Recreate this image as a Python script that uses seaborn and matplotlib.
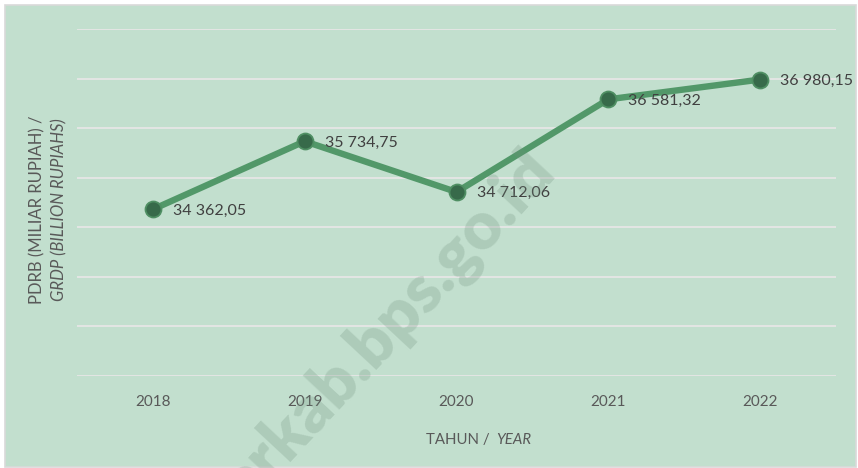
import matplotlib
matplotlib.use("Agg")
import matplotlib.pyplot as plt
from matplotlib.patches import Rectangle
import seaborn as sns
import pandas as pd

# PDRB values (miliar rupiah) per year
years = ["2018", "2019", "2020", "2021", "2022"]
pdrb = [34362.05, 35734.75, 34712.06, 36581.32, 36980.15]
value_labels = ["34 362,05", "35 734,75", "34 712,06", "36 581,32", "36 980,15"]
y_ticks = [31000, 32000, 33000, 34000, 35000, 36000, 37000, 38000]

df = pd.DataFrame({"year": years, "pdrb": pdrb})

sns.set_theme(style="white")
plt.rcParams["font.family"] = ["Lato", "DejaVu Sans"]

W, H = 858, 468
fig = plt.figure(figsize=(W / 100, H / 100), dpi=100, facecolor="white")

def px(x, y):
    return x / W, 1 - y / H

# green chart panel with thin grey border
fig.patches.append(Rectangle(px(5, 467), 851 / W, 462 / H, transform=fig.transFigure,
                             facecolor="#c2dfce", edgecolor="#d9d9d9", lw=1.2, zorder=-5))

left, top = px(77, 29)
right, bottom = px(836, 376)
ax = fig.add_axes([left, bottom, right - left, top - bottom], zorder=1)
ax.set_facecolor("none")

sns.lineplot(data=df, x="year", y="pdrb", ax=ax, sort=False, color="#529869", lw=4.6,
             marker="o", markersize=11.5, markerfacecolor="#376a4a",
             markeredgecolor="#4f8f63", markeredgewidth=1.3, zorder=3)

ax.set_xlim(-0.5, len(years) - 0.5)
ax.set_ylim(y_ticks[0], y_ticks[-1])
ax.set_yticks(y_ticks)
ax.set_yticklabels([])
ax.grid(axis="y", color="#e6e6e6", lw=1.3)
ax.grid(axis="x", visible=False)
for s in ax.spines.values():
    s.set_visible(False)
ax.tick_params(axis="both", length=0)
ax.tick_params(axis="x", pad=14, labelsize=11, labelcolor="#595959")
ax.set_xlabel("")
ax.set_ylabel("")

for i, (v, lab) in enumerate(zip(pdrb, value_labels)):
    ax.annotate(lab, (i, v), xytext=(14.5, -1), textcoords="offset points",
                ha="left", va="center", fontsize=11.5, color="#404040", zorder=4)

# axis titles with italic English part
fig.text(*px(490, 440), "TAHUN /", ha="right", va="center", fontsize=10.8, color="#595959")
fig.text(*px(496, 440), "YEAR", ha="left", va="center", fontsize=10.8, color="#595959",
         style="italic")
fig.text(*px(37, 210), "PDRB (MILIAR RUPIAH) /", ha="center", va="center", rotation=90,
         fontsize=12, color="#595959")
fig.text(*px(59, 210), "GRDP (BILLION RUPIAHS)", ha="center", va="center", rotation=90,
         fontsize=12, color="#595959", style="italic")

# site watermark
fig.text(*px(388, 328), "erkab.bps.go.id", ha="center", va="center", rotation=47,
         rotation_mode="anchor", fontsize=48, fontweight="heavy", color="#6f8f7c",
         alpha=0.25, zorder=10)

fig.savefig("out.png", dpi=100, facecolor="white")
